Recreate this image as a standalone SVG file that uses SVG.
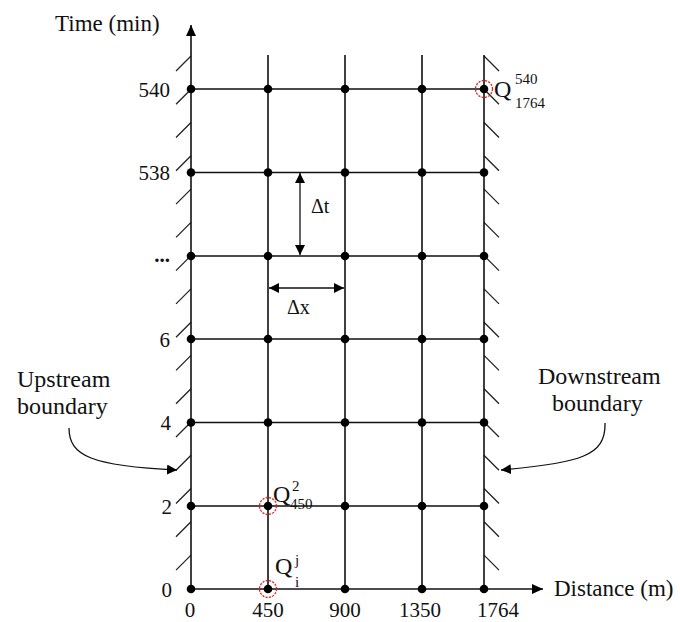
<svg xmlns="http://www.w3.org/2000/svg" width="680" height="622" viewBox="0 0 680 622">
<style>
.ln{stroke:#111;stroke-width:1.6;fill:none}
.ht{stroke:#222;stroke-width:1.3;fill:none}
.dot{fill:#000}
.rc{fill:none;stroke:#e02424;stroke-width:1.3;stroke-dasharray:2.2 1.2}
text{font-family:"Liberation Serif","Times New Roman",serif;fill:#111}
.t{font-size:21px}
.lb{font-size:24px}
.ax{font-size:23px}
.q{font-size:24px}
.s{font-size:15px}
</style>
<defs>
<marker id="ah" viewBox="0 0 10 10" refX="10" refY="5" markerWidth="10" markerHeight="10" markerUnits="userSpaceOnUse" orient="auto-start-reverse">
<path d="M0 0 L10 5 L0 10 Z" fill="#000"/>
</marker>
<marker id="ah2" viewBox="0 0 10 10" refX="10" refY="5" markerWidth="11" markerHeight="11" markerUnits="userSpaceOnUse" orient="auto-start-reverse">
<path d="M0 0.5 L10 5 L0 9.5 Z" fill="#000"/>
</marker>
</defs>
<rect width="680" height="622" fill="#fff"/>
<g id="hatches" class="ht">
<path d="M191 56l-15 15M191 89.3l-15 15M191 122.5l-15 15M191 155.8l-15 15M191 189.1l-15 15M191 222.4l-15 15M191 255.6l-15 15M191 288.9l-15 15M191 322.2l-15 15M191 355.4l-15 15M191 388.7l-15 15M191 422l-15 15M191 455.3l-15 15M191 488.5l-15 15M191 521.8l-15 15M191 555.1l-15 15"/>
<path d="M484 56l15 15M484 89.3l15 15M484 122.5l15 15M484 155.8l15 15M484 189.1l15 15M484 222.4l15 15M484 255.6l15 15M484 288.9l15 15M484 322.2l15 15M484 355.4l15 15M484 388.7l15 15M484 422l15 15M484 455.3l15 15M484 488.5l15 15M484 521.8l15 15M484 555.1l15 15"/>
</g>
<g id="grid" class="ln">
<path d="M268 55V589M345 55V589M422 55V589M484 55V589"/>
<path d="M191 89H484M191 172.5H484M191 256H484M191 339H484M191 422.5H484M191 506H484"/>
</g>
<g id="axes" class="ln">
<path d="M191 589V25" marker-end="url(#ah2)"/>
<path d="M191 589H543" marker-end="url(#ah2)"/>
</g>
<g id="connectors" class="ln" style="stroke-width:1.3">
<path d="M300 173V255" marker-start="url(#ah)" marker-end="url(#ah)"/>
<path d="M269 288H344" marker-start="url(#ah)" marker-end="url(#ah)"/>
<path d="M69 428C69 456 92 466 177 470" marker-end="url(#ah)"/>
<path d="M605 423C606 456 580 463 501 470" marker-end="url(#ah)"/>
</g>
<g id="dots" class="dot">
<circle cx="191" cy="89" r="4.3"/><circle cx="268" cy="89" r="4.3"/><circle cx="345" cy="89" r="4.3"/><circle cx="422" cy="89" r="4.3"/><circle cx="484" cy="89" r="4.3"/>
<circle cx="191" cy="172.5" r="4.3"/><circle cx="268" cy="172.5" r="4.3"/><circle cx="345" cy="172.5" r="4.3"/><circle cx="422" cy="172.5" r="4.3"/><circle cx="484" cy="172.5" r="4.3"/>
<circle cx="191" cy="256" r="4.3"/><circle cx="268" cy="256" r="4.3"/><circle cx="345" cy="256" r="4.3"/><circle cx="422" cy="256" r="4.3"/><circle cx="484" cy="256" r="4.3"/>
<circle cx="191" cy="339" r="4.3"/><circle cx="268" cy="339" r="4.3"/><circle cx="345" cy="339" r="4.3"/><circle cx="422" cy="339" r="4.3"/><circle cx="484" cy="339" r="4.3"/>
<circle cx="191" cy="422.5" r="4.3"/><circle cx="268" cy="422.5" r="4.3"/><circle cx="345" cy="422.5" r="4.3"/><circle cx="422" cy="422.5" r="4.3"/><circle cx="484" cy="422.5" r="4.3"/>
<circle cx="191" cy="506" r="4.3"/><circle cx="268" cy="506" r="4.3"/><circle cx="345" cy="506" r="4.3"/><circle cx="422" cy="506" r="4.3"/><circle cx="484" cy="506" r="4.3"/>
<circle cx="191" cy="589" r="4.3"/><circle cx="268" cy="589" r="4.3"/><circle cx="345" cy="589" r="4.3"/><circle cx="422" cy="589" r="4.3"/><circle cx="484" cy="589" r="4.3"/>
</g>
<g id="highlights">
<circle class="rc" cx="484" cy="89" r="8.5"/>
<circle class="rc" cx="268" cy="506" r="8.5"/>
<circle class="rc" cx="268" cy="589" r="8.5"/>
</g>
<g id="axis-labels">
<text class="ax" x="55" y="31">Time (min)</text>
<text class="ax" x="554" y="596">Distance (m)</text>
</g>
<g id="y-ticks" class="t" text-anchor="end">
<text x="170" y="97">540</text>
<text x="170" y="180">538</text>
<text x="170" y="262" style="font-weight:bold">...</text>
<text x="170" y="347">6</text>
<text x="171" y="430">4</text>
<text x="172" y="514">2</text>
<text x="172" y="597">0</text>
</g>
<g id="x-ticks" class="t" text-anchor="middle">
<text x="190" y="617">0</text>
<text x="268" y="617">450</text>
<text x="345" y="617">900</text>
<text x="420" y="617">1350</text>
<text x="498" y="617">1764</text>
</g>
<g id="deltas">
<text x="311" y="213" style="font-size:20px">Δt</text>
<text x="287" y="314" style="font-size:20px">Δx</text>
</g>
<g id="upstream-label" class="lb">
<text x="17" y="387">Upstream</text>
<text x="17" y="414">boundary</text>
</g>
<g id="downstream-label" class="lb">
<text x="538" y="384">Downstream</text>
<text x="552" y="411">boundary</text>
</g>
<g id="q-540">
<text class="q" x="494" y="97">Q</text>
<text class="s" x="515" y="84">540</text>
<text class="s" x="515" y="108">1764</text>
</g>
<g id="q-2">
<text class="q" x="273" y="502">Q</text>
<text class="s" x="292" y="491">2</text>
<text class="s" x="290" y="509">450</text>
</g>
<g id="q-ij">
<text class="q" x="275" y="574">Q</text>
<text class="s" x="295" y="565">j</text>
<text class="s" x="295" y="587">i</text>
</g>
</svg>
